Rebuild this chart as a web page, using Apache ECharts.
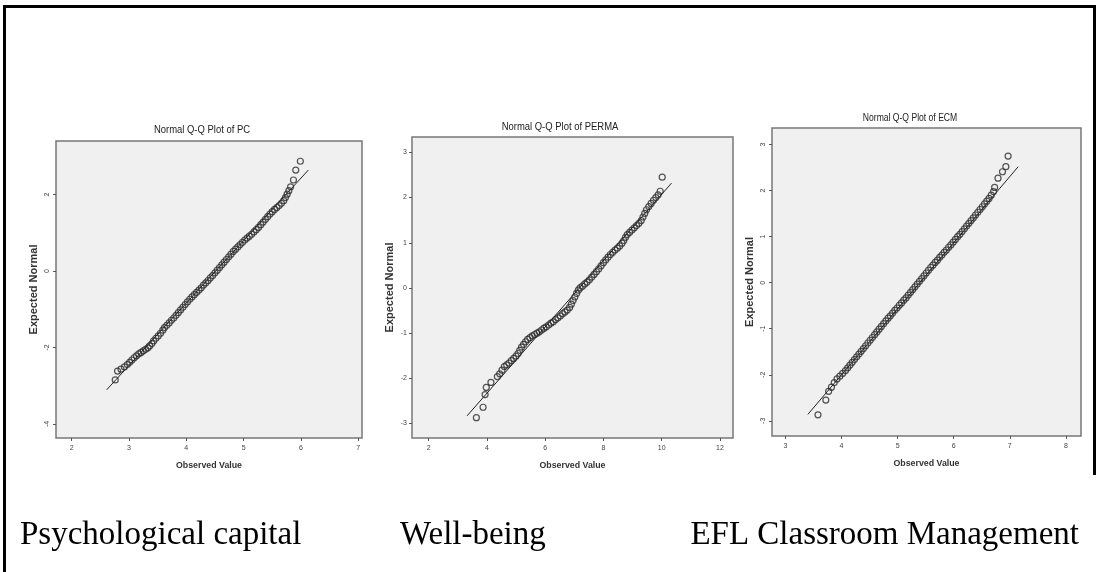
<!DOCTYPE html>
<html>
<head>
<meta charset="utf-8">
<script src="https://cdn.jsdelivr.net/npm/echarts@6/dist/echarts.min.js"></script>
<style>
html,body{margin:0;padding:0;background:#fff;}
#chart{width:1098px;height:572px;}
</style>
</head>
<body>
<div id="chart"></div>
<script>
// ---- Data ----
const panelTitles = ['Normal Q-Q Plot of PC', 'Normal Q-Q Plot of PERMA', 'Normal Q-Q Plot of ECM'];
const captions = ['Psychological capital', 'Well-being', 'EFL Classroom Management'];
const xAxisTitle = 'Observed Value';
const yAxisTitle = 'Expected Normal';

const pcXTicks = [2, 3, 4, 5, 6, 7];
const pcYTicks = [-4, -2, 0, 2];
const permaXTicks = [2, 4, 6, 8, 10, 12];
const permaYTicks = [-3, -2, -1, 0, 1, 2, 3];
const ecmXTicks = [3, 4, 5, 6, 7, 8];
const ecmYTicks = [-3, -2, -1, 0, 1, 2, 3];

// [observed value, expected normal]
const pcPoints = [[2.76,-2.85],[2.80,-2.62],[2.86,-2.57],[2.92,-2.51],[2.97,-2.45],[3.01,-2.39],[3.05,-2.33],[3.09,-2.27],[3.13,-2.22],[3.17,-2.17],[3.21,-2.13],[3.25,-2.09],[3.29,-2.05],[3.33,-2.01],[3.36,-1.96],[3.40,-1.90],[3.43,-1.83],[3.47,-1.76],[3.51,-1.70],[3.55,-1.63],[3.59,-1.55],[3.62,-1.48],[3.66,-1.42],[3.70,-1.36],[3.74,-1.29],[3.78,-1.23],[3.82,-1.16],[3.86,-1.09],[3.90,-1.02],[3.94,-0.95],[3.98,-0.88],[4.02,-0.81],[4.06,-0.74],[4.10,-0.68],[4.14,-0.62],[4.18,-0.56],[4.22,-0.50],[4.26,-0.44],[4.30,-0.37],[4.34,-0.31],[4.38,-0.25],[4.42,-0.18],[4.46,-0.12],[4.50,-0.05],[4.54,0.02],[4.58,0.09],[4.62,0.16],[4.66,0.23],[4.70,0.30],[4.74,0.37],[4.78,0.44],[4.82,0.51],[4.86,0.57],[4.90,0.63],[4.94,0.69],[4.98,0.75],[5.02,0.81],[5.06,0.86],[5.10,0.91],[5.14,0.96],[5.18,1.02],[5.22,1.08],[5.26,1.14],[5.30,1.21],[5.34,1.28],[5.38,1.35],[5.42,1.42],[5.46,1.49],[5.50,1.55],[5.54,1.61],[5.58,1.66],[5.62,1.71],[5.66,1.77],[5.70,1.84],[5.73,1.92],[5.76,2.01],[5.79,2.10],[5.82,2.20],[5.87,2.38],[5.91,2.64],[5.99,2.87]];
const pcLine = [[2.61,-3.11],[6.13,2.64]];

const permaPoints = [[3.64,-2.87],[3.87,-2.64],[3.94,-2.36],[3.98,-2.20],[4.14,-2.09],[4.36,-1.96],[4.44,-1.90],[4.52,-1.82],[4.60,-1.74],[4.68,-1.70],[4.76,-1.66],[4.84,-1.61],[4.92,-1.56],[5.00,-1.51],[5.07,-1.45],[5.13,-1.38],[5.19,-1.31],[5.26,-1.25],[5.33,-1.19],[5.40,-1.14],[5.48,-1.10],[5.56,-1.06],[5.64,-1.03],[5.72,-1.00],[5.80,-0.97],[5.88,-0.93],[5.96,-0.89],[6.04,-0.86],[6.12,-0.82],[6.20,-0.78],[6.28,-0.75],[6.36,-0.70],[6.44,-0.66],[6.52,-0.62],[6.60,-0.57],[6.68,-0.53],[6.76,-0.49],[6.84,-0.43],[6.90,-0.36],[6.96,-0.28],[7.02,-0.20],[7.08,-0.12],[7.14,-0.05],[7.20,0.00],[7.28,0.04],[7.36,0.09],[7.44,0.13],[7.52,0.18],[7.60,0.24],[7.68,0.30],[7.76,0.36],[7.84,0.42],[7.92,0.49],[8.00,0.56],[8.08,0.62],[8.16,0.68],[8.24,0.74],[8.32,0.79],[8.40,0.84],[8.48,0.88],[8.56,0.93],[8.64,0.99],[8.70,1.05],[8.76,1.12],[8.82,1.18],[8.90,1.23],[8.98,1.28],[9.06,1.33],[9.14,1.38],[9.22,1.43],[9.30,1.49],[9.36,1.57],[9.42,1.65],[9.48,1.73],[9.56,1.80],[9.64,1.87],[9.72,1.94],[9.80,2.00],[9.88,2.06],[9.95,2.14],[10.02,2.45]];
const permaLine = [[3.32,-2.83],[10.34,2.32]];

const ecmPoints = [[3.58,-2.87],[3.72,-2.55],[3.77,-2.36],[3.82,-2.27],[3.87,-2.17],[3.92,-2.09],[3.97,-2.03],[4.02,-1.97],[4.07,-1.91],[4.11,-1.85],[4.15,-1.79],[4.19,-1.73],[4.23,-1.67],[4.27,-1.61],[4.31,-1.55],[4.35,-1.49],[4.39,-1.43],[4.43,-1.37],[4.47,-1.31],[4.51,-1.25],[4.55,-1.19],[4.59,-1.13],[4.63,-1.07],[4.67,-1.01],[4.71,-0.95],[4.75,-0.89],[4.79,-0.83],[4.83,-0.77],[4.87,-0.72],[4.91,-0.66],[4.95,-0.60],[4.99,-0.55],[5.03,-0.49],[5.07,-0.44],[5.11,-0.38],[5.15,-0.33],[5.19,-0.27],[5.23,-0.21],[5.27,-0.15],[5.31,-0.09],[5.35,-0.03],[5.39,0.03],[5.43,0.09],[5.47,0.15],[5.51,0.21],[5.55,0.27],[5.59,0.33],[5.63,0.38],[5.67,0.44],[5.71,0.49],[5.75,0.55],[5.79,0.60],[5.83,0.66],[5.87,0.71],[5.91,0.77],[5.95,0.82],[5.99,0.88],[6.03,0.94],[6.07,1.00],[6.11,1.05],[6.15,1.11],[6.19,1.17],[6.23,1.23],[6.27,1.29],[6.31,1.35],[6.35,1.41],[6.39,1.47],[6.43,1.53],[6.47,1.59],[6.51,1.65],[6.55,1.71],[6.59,1.77],[6.63,1.83],[6.67,1.90],[6.71,1.98],[6.73,2.07],[6.79,2.27],[6.87,2.41],[6.93,2.52],[6.97,2.75]];
const ecmLine = [[3.40,-2.86],[7.15,2.52]];

// ---- Layout / styling ----
const SANS = "'Liberation Sans',Arial,sans-serif";
const SERIF = "'Liberation Serif','Times New Roman',serif";

const panels = [
  {grid:{left:56,top:141,width:306,height:297}, x:[1.726,7.066], y:[-4.37,3.40], xt:pcXTicks, yt:pcYTicks, pts:pcPoints, line:pcLine, yRot:90, title:[202,130], tScale:0.86},
  {grid:{left:412,top:137,width:321,height:301}, x:[1.43,12.45], y:[-3.32,3.34], xt:permaXTicks, yt:permaYTicks, pts:permaPoints, line:permaLine, yRot:0, title:[560,127], tScale:0.86},
  {grid:{left:772,top:128,width:309,height:308}, x:[2.76,8.27], y:[-3.33,3.36], xt:ecmXTicks, yt:ecmYTicks, pts:ecmPoints, line:ecmLine, yRot:90, title:[910,118], tScale:0.78}
];

const chart = echarts.init(document.getElementById('chart'), null, {renderer:'canvas'});

const grids = [], xAxes = [], yAxes = [], series = [], graphics = [];
panels.forEach((p, i) => {
  grids.push(Object.assign({show:true, backgroundColor:'#f0f0f0', borderColor:'#777', borderWidth:1.5, containLabel:false}, p.grid));
  xAxes.push({
    type:'value', gridIndex:i, min:p.x[0], max:p.x[1], position:'bottom',
    axisLine:{show:false, onZero:false},
    axisTick:{show:true, inside:false, length:3, lineStyle:{color:'#555', width:1}, customValues:p.xt},
    axisLabel:{show:true, customValues:p.xt, fontSize:7, color:'#444', margin:7, fontFamily:SANS},
    splitLine:{show:false},
    name:xAxisTitle, nameLocation:'middle', nameGap:23,
    nameTextStyle:{fontSize:8.8, fontWeight:'bold', color:'#333', fontFamily:SANS}
  });
  yAxes.push({
    type:'value', gridIndex:i, min:p.y[0], max:p.y[1], position:'left',
    axisLine:{show:false, onZero:false},
    axisTick:{show:true, inside:false, length:3, lineStyle:{color:'#555', width:1}, customValues:p.yt},
    axisLabel:{show:true, customValues:p.yt, fontSize:7, color:'#444', margin:5, rotate:p.yRot, fontFamily:SANS},
    splitLine:{show:false},
    name:yAxisTitle, nameLocation:'middle', nameGap:17, nameRotate:90,
    nameTextStyle:{fontSize:11, fontWeight:'bold', color:'#333', fontFamily:SANS}
  });
  series.push({
    type:'scatter', xAxisIndex:i, yAxisIndex:i, data:p.pts,
    symbol:'circle', symbolSize:6,
    itemStyle:{color:'rgba(240,240,240,0)', borderColor:'#2a2a2a', borderWidth:1.2},
    silent:true, z:3
  });
  series.push({
    type:'line', xAxisIndex:i, yAxisIndex:i, data:p.line,
    showSymbol:false, symbol:'none',
    lineStyle:{color:'#222', width:1}, silent:true, z:2
  });
  graphics.push({
    type:'text', x:p.title[0], y:p.title[1], scaleX:p.tScale,
    style:{text:panelTitles[i], font:"11px " + SANS, fill:'#222', textAlign:'center', textVerticalAlign:'middle'}
  });
});

// captions
graphics.push({type:'text', x:20, y:535, style:{text:captions[0], font:"33px " + SERIF, fill:'#000', textAlign:'left', textVerticalAlign:'middle'}});
graphics.push({type:'text', x:400, y:535, style:{text:captions[1], font:"33px " + SERIF, fill:'#000', textAlign:'left', textVerticalAlign:'middle'}});
graphics.push({type:'text', x:1079, y:535, style:{text:captions[2], font:"33px " + SERIF, fill:'#000', textAlign:'right', textVerticalAlign:'middle'}});

// outer frame
graphics.push({type:'rect', shape:{x:3, y:5, width:1093, height:3}, style:{fill:'#000'}});
graphics.push({type:'rect', shape:{x:3, y:5, width:3, height:567}, style:{fill:'#000'}});
graphics.push({type:'rect', shape:{x:1093, y:5, width:3, height:470}, style:{fill:'#000'}});

chart.setOption({
  animation:false,
  backgroundColor:'#ffffff',
  grid:grids, xAxis:xAxes, yAxis:yAxes, series:series,
  graphic:{elements:graphics}
});
</script>
</body>
</html>
